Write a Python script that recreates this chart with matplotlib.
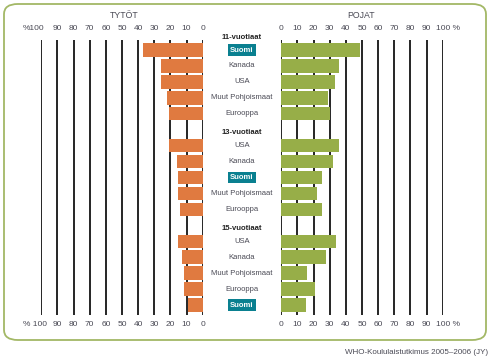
import matplotlib
matplotlib.use("Agg")
import matplotlib.pyplot as plt
from matplotlib.patches import FancyBboxPatch
import matplotlib.transforms as mtransforms

# ---- data ----
groups = ["11-vuotiaat", "13-vuotiaat", "15-vuotiaat"]
countries_11 = ["Suomi", "Kanada", "USA", "Muut Pohjoismaat", "Eurooppa"]
girls_11 = [37, 26, 26, 22, 21]
boys_11 = [49, 36, 33, 29, 30]
countries_13 = ["USA", "Kanada", "Suomi", "Muut Pohjoismaat", "Eurooppa"]
girls_13 = [21, 16, 15, 15, 14]
boys_13 = [36, 32, 25, 22, 25]
countries_15 = ["USA", "Kanada", "Muut Pohjoismaat", "Eurooppa", "Suomi"]
girls_15 = [15, 13, 11.5, 11.5, 9]
boys_15 = [34, 28, 16, 21, 15]
ticks = list(range(0, 101, 10))
left_top_labels = ["0", "10", "20", "30", "40", "50", "60", "70", "80", "90", "%100"]
left_bot_labels = ["0", "10", "20", "30", "40", "50", "60", "70", "80", "90", "% 100"]
right_labels = ["0", "10", "20", "30", "40", "50", "60", "70", "80", "90", "100 %"]
title_girls = "TYTÖT"
title_boys = "POJAT"
source = "WHO-Koululaistutkimus 2005\u20132006 (JY)"

ORANGE = "#E07A40"
GREEN = "#97AE48"
TEAL = "#0A8090"
BORDER = "#A3B866"
TXT = "#4A4A55"
FONT = ["Liberation Sans", "DejaVu Sans"]
plt.rcParams["font.family"] = FONT

W, H = 492, 362
fig = plt.figure(figsize=(W / 100, H / 100), dpi=100)

def fx(px):
    return px / W

def fy(py):
    return 1 - py / H

# rounded border
border = FancyBboxPatch((fx(4), fy(340)), fx(482), fy(4) - fy(340),
                        boxstyle="round,pad=0,rounding_size=0.028",
                        transform=fig.transFigure, fill=False,
                        edgecolor=BORDER, lw=1.3)
fig.patches.append(border)

top_px, bot_px = 40, 315
axL = fig.add_axes([fx(41.3), fy(bot_px), fx(202.7 - 41.3), (bot_px - top_px) / H])
axR = fig.add_axes([fx(281.3), fy(bot_px), fx(442.7 - 281.3), (bot_px - top_px) / H])

slot = 15.94
y0 = 1 - 10 / slot
y1 = 17 + 10 / slot

group_slots = [0, 6, 12]
data = [(countries_11, girls_11, boys_11), (countries_13, girls_13, boys_13),
        (countries_15, girls_15, boys_15)]

for ax, inv in ((axL, True), (axR, False)):
    if inv:
        ax.set_xlim(100, 0)
    else:
        ax.set_xlim(0, 100)
    ax.set_ylim(y1, y0)
    ax.axis("off")
    for t in ticks:
        ax.axvline(t, color="black", lw=1.2, zorder=1)

bh = 13.5 / slot
for gs, (cats, g, b) in zip(group_slots, data):
    ys = [gs + 1 + i for i in range(len(cats))]
    axL.barh(ys, g, height=bh, color=ORANGE, zorder=3)
    axR.barh(ys, b, height=bh, color=GREEN, zorder=3)

# tick labels
def put_labels(ax, labels, ypx, last_shift, last_ha):
    tr = mtransforms.blended_transform_factory(ax.transData, fig.transFigure)
    off = mtransforms.offset_copy(tr, fig=fig, x=last_shift, units="dots")
    for t, a in zip(ticks, labels):
        if t == 100:
            ax.text(t, fy(ypx), a, transform=off, ha=last_ha, va="center",
                    fontsize=6, color=TXT)
        else:
            ax.text(t, fy(ypx), a, transform=tr, ha="center", va="center",
                    fontsize=6, color=TXT)

put_labels(axL, left_top_labels, 28, 3, "right")
put_labels(axL, left_bot_labels, 324, 6, "right")
put_labels(axR, right_labels, 28, -7, "left")
put_labels(axR, right_labels, 324, -7, "left")

fig.text(fx(124), fy(16), title_girls, ha="center", va="center", fontsize=6.3, color=TXT)
fig.text(fx(361), fy(16), title_boys, ha="center", va="center", fontsize=6.3, color=TXT)

# category labels (centre column)
cx = 242
for gi, (gs, (cats, g, b)) in enumerate(zip(group_slots, data)):
    ypx_label = 40 + (gs - y0) * slot + 3
    fig.text(fx(cx), fy(ypx_label), groups[gi], ha="center", va="center",
             fontsize=5.5, fontweight="bold", color="#222222")
    for i, c in enumerate(cats):
        ypx = 40 + (gs + 1 + i - y0) * slot
        if c == "Suomi":
            fig.text(fx(cx), fy(ypx), c, ha="center", va="center", fontsize=5.5,
                     fontweight="bold", color="white",
                     bbox=dict(boxstyle="square,pad=0.3", fc=TEAL, ec="none"))
        else:
            fig.text(fx(cx), fy(ypx), c, ha="center", va="center", fontsize=5.5,
                     color=TXT)

fig.text(fx(488), fy(352), source, ha="right", va="center", fontsize=5.8, color=TXT)

fig.savefig("out.png", dpi=100)
